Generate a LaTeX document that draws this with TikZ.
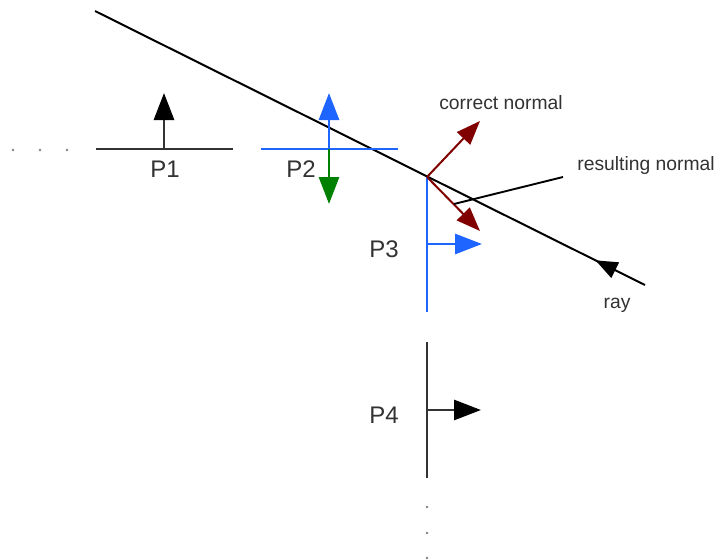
\documentclass[tikz,border=0pt]{standalone}
\usepackage{fontspec}
\setmainfont{Liberation Sans}
\usetikzlibrary{arrows.meta,decorations.markings}
\definecolor{lblue}{RGB}{30,100,255}
\definecolor{lgreen}{RGB}{0,128,0}
\definecolor{dred}{RGB}{128,0,0}
\definecolor{lgray}{RGB}{51,51,51}
\definecolor{tgray}{RGB}{50,50,50}
\tikzset{
  plane/.style={line width=2.9pt, draw=lgray},
  bignormal/.style={line width=2.9pt, -{Triangle[length=27pt,width=20pt]}},
  blacknormal/.style={line width=2.9pt, draw=lgray, -{Triangle[length=27pt,width=20pt,color=black]}},
  rednormal/.style={line width=2pt, draw=dred, -{Triangle[length=24pt,width=18pt]}},
  plabel/.style={text=tgray, font=\fontsize{24}{26}\selectfont, inner sep=0pt},
  slabel/.style={text=tgray, font=\fontsize{19.3}{22}\selectfont, inner sep=0pt},
  dot/.style={circle, fill=gray, inner sep=0pt, minimum size=2.8pt},
}
\begin{document}
\begin{tikzpicture}[x=1pt,y=-1pt]
\useasboundingbox (0,0) rectangle (716,560);
% ray
\coordinate (rs) at (645,285);
\coordinate (re) at (95,11);
\draw[line width=2pt, black, postaction={decorate}, decoration={markings, mark=at position 0.09 with {\arrow{Triangle[length=22pt,width=17pt]}}}] (rs) -- (re);
% left dots
\node[dot] (d1) at (13,150) {};
\node[dot] (d2) at (40,150) {};
\node[dot] (d3) at (67,150) {};
% P1
\coordinate (p1a) at (96,149);
\coordinate (p1b) at (233,149);
\coordinate (p1c) at (164,149);
\coordinate (p1n) at (164,93);
\draw[plane] (p1a) -- (p1b);
\draw[blacknormal] (p1c) -- (p1n);
\node[plabel] (l1) at (165,169) {P1};
% P2
\coordinate (p2a) at (261,149);
\coordinate (p2b) at (398,149);
\coordinate (p2c) at (329,149);
\coordinate (p2u) at (329,93);
\coordinate (p2d) at (329,204);
\draw[plane, draw=lblue] (p2a) -- (p2b);
\draw[bignormal, lblue] (p2c) -- (p2u);
\draw[bignormal, lgreen] (p2c) -- (p2d);
\node[plabel] (l2) at (301,169) {P2};
% P3
\coordinate (h) at (427,177);
\coordinate (p3b) at (427,312);
\coordinate (p3c) at (427,244);
\coordinate (p3n) at (482,244);
\draw[plane, draw=lblue] (h) -- (p3b);
\draw[bignormal, lblue] (p3c) -- (p3n);
\node[plabel] (l3) at (384,249) {P3};
% normals
\coordinate (cn) at (480,121);
\coordinate (rn) at (480,231);
\draw[rednormal] (h) -- (cn);
\draw[rednormal] (h) -- (rn);
\node[slabel] (lcn) at (501,103) {correct normal};
\coordinate (rl1) at (454,204);
\coordinate (rl2) at (563,177);
\draw[line width=1.9pt, black] (rl1) -- (rl2);
\node[slabel] (lrn) at (646,166) {resulting normal};
\node[slabel] (lray) at (617,305) {ray};
% P4
\coordinate (p4a) at (427,342);
\coordinate (p4b) at (427,478);
\coordinate (p4c) at (427,410);
\coordinate (p4n) at (481,410);
\draw[plane] (p4a) -- (p4b);
\draw[blacknormal] (p4c) -- (p4n);
\node[plabel] (l4) at (384,415) {P4};
% lower dots
\node[dot] (d4) at (427,507) {};
\node[dot] (d5) at (427,533) {};
\node[dot] (d6) at (427,558) {};
\end{tikzpicture}
\end{document}
